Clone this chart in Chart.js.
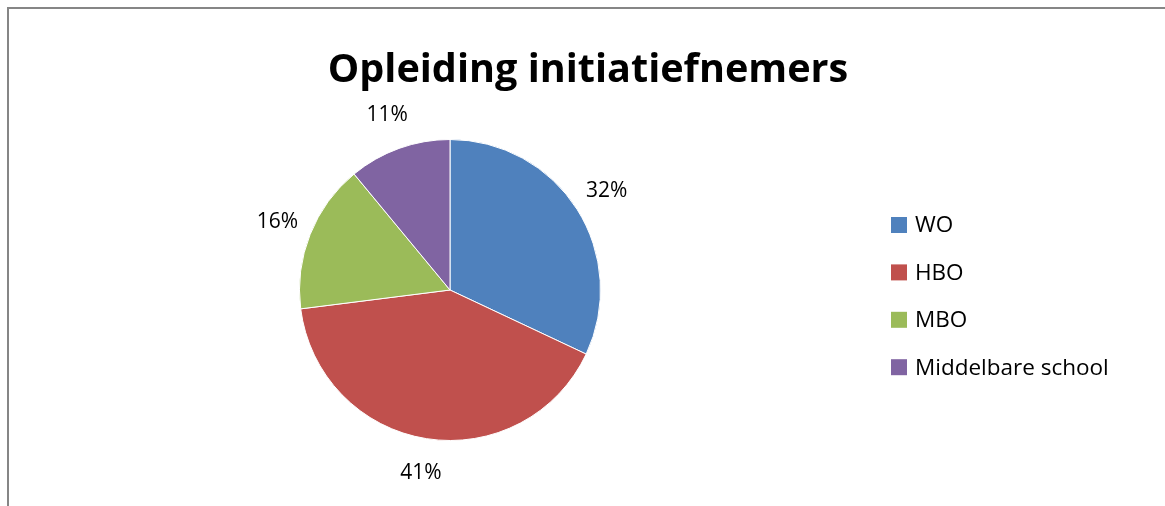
<!DOCTYPE html>
<html>
<head>
<meta charset="utf-8">
<script src="https://cdn.jsdelivr.net/npm/chart.js@4.4.0/dist/chart.umd.min.js"></script>
<style>
  html, body { margin: 0; padding: 0; background: #fff; }
  #wrap { width: 1165px; height: 506px; position: relative; }
</style>
</head>
<body>
<div id="wrap"><canvas id="pie"></canvas></div>
<script>
const title = 'Opleiding initiatiefnemers';
const labels = ['WO', 'HBO', 'MBO', 'Middelbare school'];
const values = [32, 41, 16, 11];
const colors = ['#4F81BD', '#C0504D', '#9BBB59', '#8064A2'];

const FONT = '"Open Sans", sans-serif';

// frame, title, percent labels and legend drawn on top of the pie
const decorations = {
  id: 'decorations',
  afterDraw(chart) {
    const ctx = chart.ctx;
    ctx.save();

    // outer frame (only left and top edges show)
    ctx.strokeStyle = '#868686';
    ctx.lineWidth = 2;
    ctx.beginPath();
    ctx.moveTo(8, chart.height);
    ctx.lineTo(8, 8);
    ctx.lineTo(chart.width, 8);
    ctx.stroke();

    // title
    ctx.fillStyle = '#000';
    ctx.font = 'bold 39.6px ' + FONT;
    ctx.textAlign = 'center';
    ctx.textBaseline = 'alphabetic';
    ctx.fillText(title, 588, 82);

    // percent labels outside the slices
    const meta = chart.getDatasetMeta(0);
    const total = values.reduce((a, b) => a + b, 0);
    ctx.font = '21px ' + FONT;
    ctx.textBaseline = 'middle';
    meta.data.forEach((arc, i) => {
      const mid = (arc.startAngle + arc.endAngle) / 2;
      const r = arc.outerRadius + 35;
      const x = arc.x + Math.cos(mid) * r;
      const y = arc.y + Math.sin(mid) * r;
      ctx.fillText(Math.round(values[i] / total * 100) + '%', x, y);
    });

    // legend
    ctx.textAlign = 'left';
    ctx.font = '22.5px ' + FONT;
    labels.forEach((lab, i) => {
      const y = 217 + i * 47.4;
      ctx.fillStyle = colors[i];
      ctx.fillRect(891, y, 16, 16);
      ctx.fillStyle = '#000';
      ctx.fillText(lab, 915, y + 9);
    });

    ctx.restore();
  }
};

new Chart(document.getElementById('pie'), {
  type: 'pie',
  data: {
    labels,
    datasets: [{
      data: values,
      backgroundColor: colors,
      borderColor: '#ffffff',
      borderWidth: 1
    }]
  },
  options: {
    responsive: true,
    maintainAspectRatio: false,
    animation: false,
    layout: { padding: { left: 299, right: 564, top: 139, bottom: 65 } },
    plugins: {
      legend: { display: false },
      title: { display: false },
      tooltip: { enabled: false }
    }
  },
  plugins: [decorations]
});
</script>
</body>
</html>
